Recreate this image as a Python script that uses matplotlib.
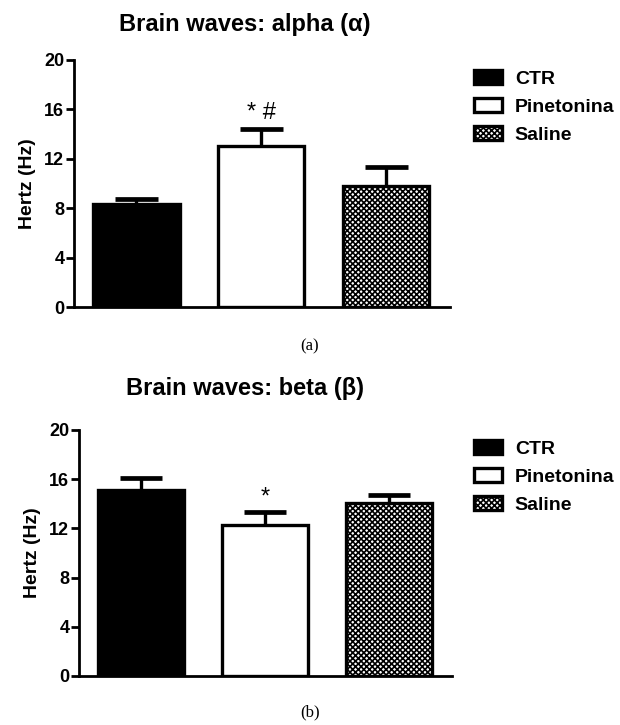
import matplotlib
matplotlib.use("Agg")
import matplotlib.pyplot as plt
import numpy as np

plt.rcParams['font.family'] = ['Liberation Sans', 'DejaVu Sans']
plt.rcParams['hatch.linewidth'] = 1.2

groups = ["CTR", "Pinetonina", "Saline"]
alpha_mean = [8.35, 13.05, 9.8]
alpha_sem = [0.4, 1.4, 1.5]
beta_mean = [15.1, 12.25, 14.05]
beta_sem = [1.0, 1.05, 0.65]
alpha_marks = ["", "* #", ""]
beta_marks = ["", "*", ""]
yticks = [0, 4, 8, 12, 16, 20]

faces = ["black", "white", "white"]
hatches = [None, None, "xxxxxx"]

fig = plt.figure(figsize=(6.2, 7.25), dpi=100)


def panel(rect, means, sems, marks, title, title_y, sub, sub_y):
    ax = fig.add_axes(rect)
    x = np.arange(len(groups))
    means = np.array(means)
    sems = np.array(sems)
    # upper error bar only, drawn behind the bars
    ax.vlines(x, means, means + sems, color="black", linewidth=2.4, zorder=1)
    ax.hlines(means + sems, x - 0.17, x + 0.17, color="black",
              linewidth=3.4, zorder=1)
    bars = ax.bar(x, means, width=0.69, color=faces, edgecolor="black",
                  linewidth=2.4, zorder=2)
    for b, h in zip(bars, hatches):
        if h:
            b.set_hatch(h)
    for xi, m, s, t in zip(x, means, sems, marks):
        if t:
            ax.text(xi, m + s + 0.35, t, ha="center", va="bottom",
                    fontsize=17)
    ax.set_xlim(-0.5, 2.51)
    ax.set_ylim(0, 20)
    ax.set_yticks(yticks)
    ax.set_xticks([])
    for s in ["top", "right"]:
        ax.spines[s].set_visible(False)
    ax.spines["left"].set_linewidth(2)
    ax.spines["bottom"].set_linewidth(2)
    ax.tick_params(axis="y", direction="out", length=6, width=2,
                   labelsize=13, pad=1)
    for lab in ax.get_yticklabels():
        lab.set_fontweight("bold")
    ax.set_ylabel("Hertz (Hz)", fontsize=14, fontweight="bold", labelpad=6)
    fig.text(245 / 620, 1 - title_y / 725, title, ha="center", va="center",
             fontsize=17, fontweight="bold")
    fig.text(310 / 620, 1 - sub_y / 725, sub, ha="center", va="center",
             fontsize=12, family="Liberation Serif")
    ax.legend(bars, groups, loc="upper left",
              bbox_to_anchor=((474 - rect[0] * 620) / (rect[2] * 620), 0.96),
              frameon=False, prop={"weight": "bold", "size": 14},
              handlelength=1.45, handleheight=0.75, handletextpad=0.65,
              labelspacing=0.52, borderaxespad=0, borderpad=0)
    return ax


panel([74 / 620, 1 - 307 / 725, 376 / 620, 247 / 725], alpha_mean, alpha_sem,
      alpha_marks, "Brain waves: alpha (\u03b1)", 25, "(a)", 346)
panel([79 / 620, 1 - 676 / 725, 373 / 620, 246 / 725], beta_mean, beta_sem,
      beta_marks, "Brain waves: beta (\u03b2)", 388, "(b)", 712)

fig.savefig("out.png", dpi=100)
